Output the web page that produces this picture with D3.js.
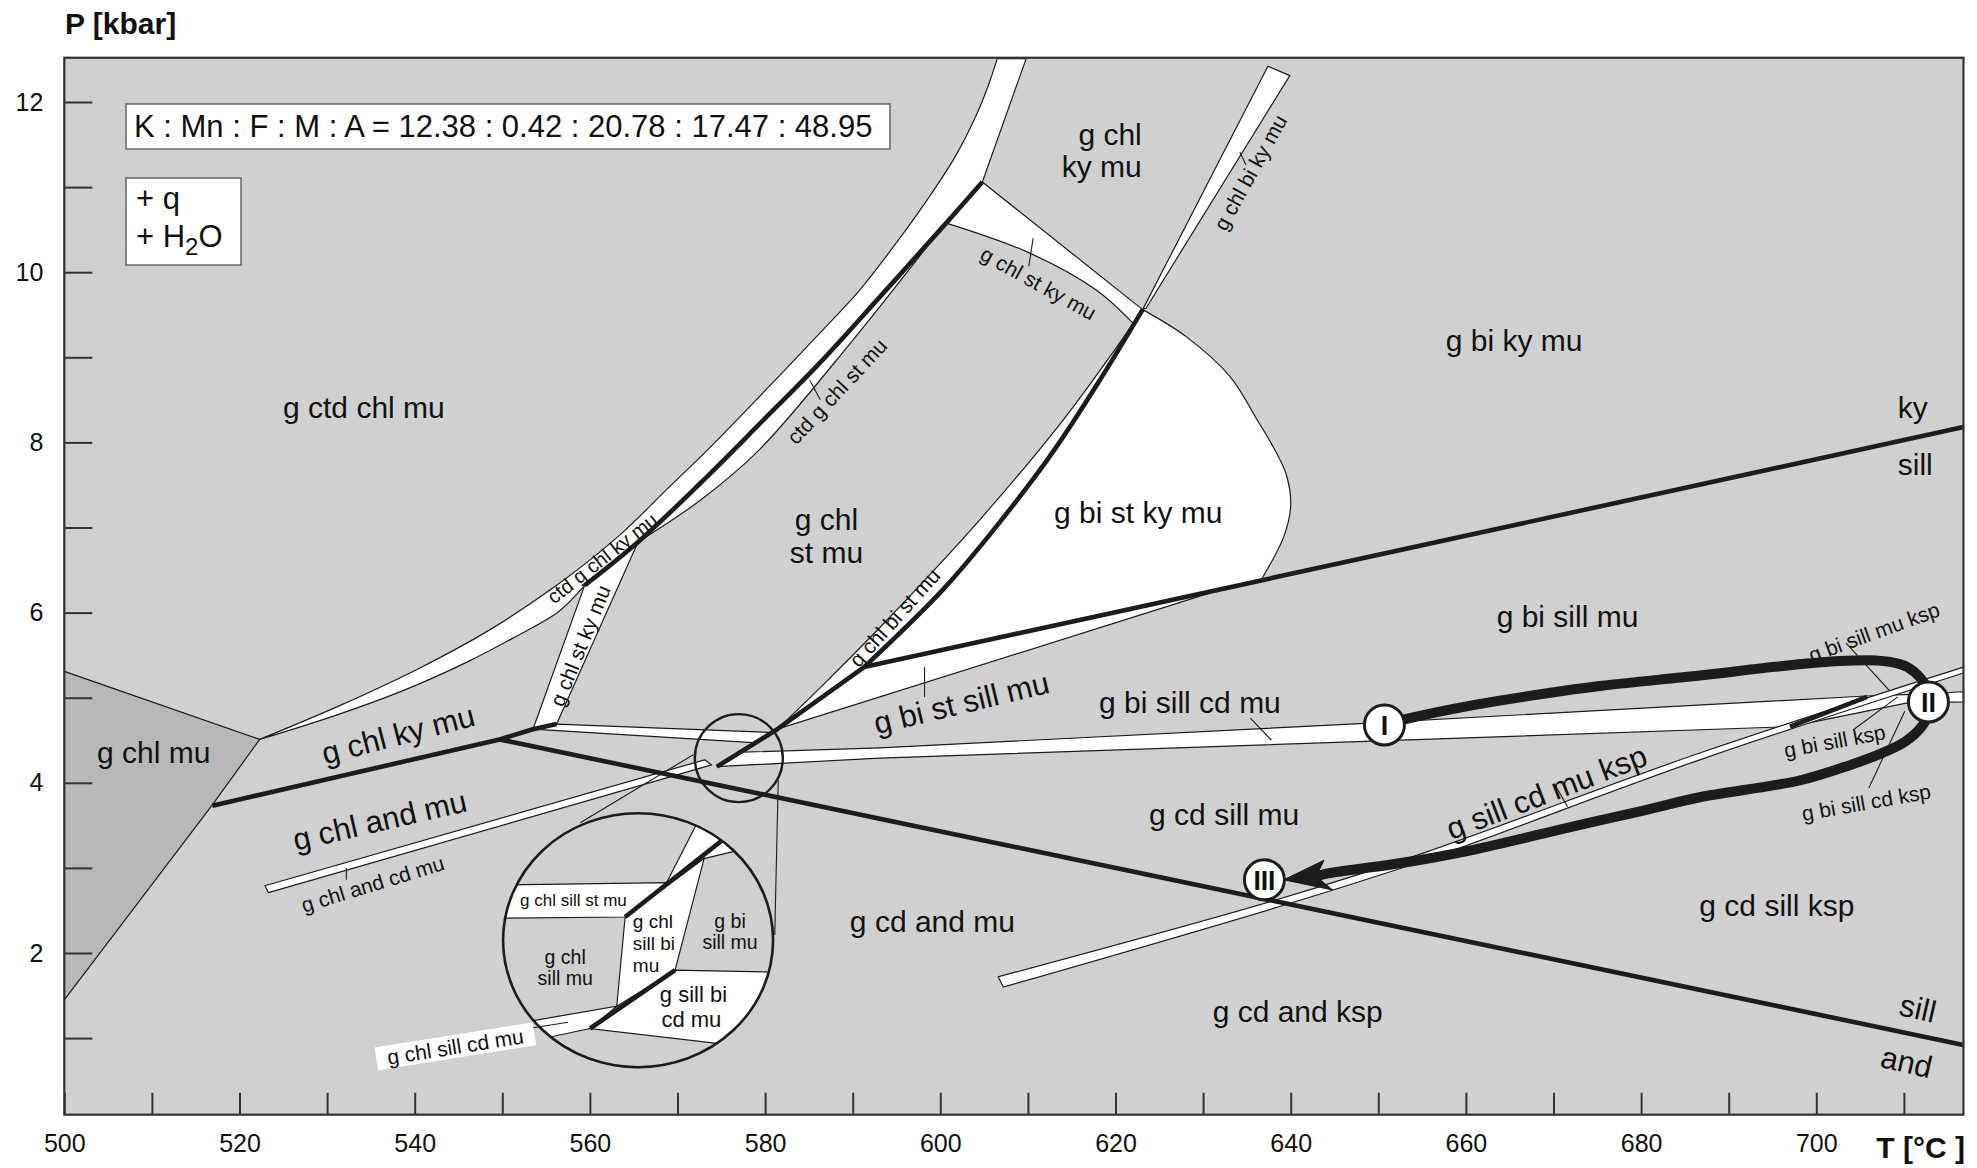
<!DOCTYPE html>
<html>
<head>
<meta charset="utf-8">
<script src="https://cdn.jsdelivr.net/npm/d3@7"></script>
<style>
  body { margin: 0; background: #fff; }
  text { font-family: "Liberation Sans", Arial, Helvetica, sans-serif; fill: #111; }
</style>
</head>
<body>
<div id="chart"></div>
<script>
// ---- axis values ----
const tempTicks = d3.range(500, 711, 10);
const tempLabels = [500, 520, 540, 560, 580, 600, 620, 640, 660, 680, 700];
const presTicks = d3.range(1, 13);
const presLabels = [2, 4, 6, 8, 10, 12];

// bulk composition
const oxides = ["K", "Mn", "F", "M", "A"];
const molar = [12.38, 0.42, 20.78, 17.47, 48.95];

// ---- field boundaries, [T °C, P kbar] ----
const chlMuField = [[500, 5.31], [522.3, 4.51], [516.9, 3.74], [500, 1.45]];

const bandLeft = [[522.3, 4.51], [531.5, 4.91], [540.6, 5.35], [548.6, 5.80], [556.6, 6.35], [563.4, 6.91],
  [569.1, 7.48], [573.9, 7.96], [580.3, 8.64], [586.3, 9.29], [590.8, 9.79], [594.8, 10.32],
  [598.5, 10.85], [601.6, 11.34], [604.0, 11.82], [605.5, 12.20], [606.5, 12.51]];
const bandTop = [[606.5, 12.51], [609.8, 12.51], [604.8, 11.06]];
const t1Top = [[604.8, 11.06], [600.6, 10.58]];
const sliverEdge = [[600.6, 10.58], [590.0, 9.20], [579.3, 7.91], [572.6, 7.32], [565.5, 6.83]];
const bandJoin = [[565.5, 6.83], [559.4, 6.32]];
const bandLower = [[559.4, 6.32], [556.4, 6.01], [551.2, 5.70], [546.2, 5.43], [538.6, 5.08], [530.9, 4.79], [522.3, 4.51]];

const thickT1 = [[604.8, 11.06], [600.0, 10.50], [593.1, 9.71], [586.3, 8.94], [579.4, 8.22], [572.6, 7.52],
  [565.5, 6.83], [559.4, 6.32]];

const stKyBand = [[553.5, 4.63], [559.4, 6.32], [565.5, 6.83], [556.2, 4.69]];

const triUpper = [[604.8, 11.06], [623.1, 9.56], [622.1, 9.39]];
const triCurve = [[622.1, 9.39], [617.8, 9.79], [610.1, 10.23], [600.6, 10.58]];

const biKyBand = [[623.1, 9.56], [637.4, 12.42], [639.9, 12.31], [623.5, 9.58]];

const thickT2 = [[623.1, 9.56], [618.2, 8.73], [613.0, 7.91], [607.0, 7.09], [600.3, 6.27], [591.3, 5.36]];
const lobeCurve = [[636.6, 6.38], [639.2, 6.89], [640.0, 7.26], [639.5, 7.62], [638.2, 7.91], [636.2, 8.26],
  [633.1, 8.77], [628.1, 9.24], [623.1, 9.56]];

const sliverU = [[581.4, 4.63], [587.2, 5.21], [593.9, 5.91], [604.5, 7.09], [614.0, 8.26], [620.0, 9.10], [623.1, 9.56]];
const thickT3 = [[591.3, 5.36], [581.4, 4.63], [574.5, 4.19]];
const stSillWedge = [[581.4, 4.63], [591.3, 5.36], [632.9, 6.30]];

const sillStBand = [[553.5, 4.63], [556.2, 4.69], [581.0, 4.59], [579.1, 4.47]];

const cdBandUpper = [[577.4, 4.36], [593.1, 4.41], [646.8, 4.69], [705.7, 5.02], [711.0, 5.04], [716.8, 5.07]];
const cdBandLower = [[716.8, 4.95], [710.4, 4.94], [697.0, 4.66], [646.8, 4.48], [593.1, 4.29], [574.5, 4.19]];
const kspSegment = [[697.0, 4.66], [705.8, 5.01]];

const kspBandUpper = [[606.6, 1.72], [638.2, 2.62], [655.3, 3.18], [686.7, 4.35], [716.8, 5.36]];
const kspBandLower = [[716.8, 5.29], [686.7, 4.27], [655.3, 3.09], [638.2, 2.53], [607.2, 1.60]];

const andCdBand = [[522.9, 2.79], [573.1, 4.27], [573.9, 4.21], [523.3, 2.71]];

const kyAnd = [[516.9, 3.73], [549.7, 4.51], [553.5, 4.63], [556.2, 4.69]];
const andSill = [[549.7, 4.51], [716.8, 0.92]];
const kySill = [[591.3, 5.36], [716.8, 8.18]];

const pointers = [
  [[585.1, 8.73], [586.3, 8.50]], [[610.6, 10.40], [610.1, 10.07]], [[598.2, 5.36], [598.2, 5.01]],
  [[635.4, 4.76], [637.8, 4.50]], [[670.1, 3.99], [671.6, 3.72]], [[703.4, 5.64], [708.3, 5.09]],
  [[704.2, 4.62], [709.3, 5.01]], [[706.0, 3.94], [710.1, 4.84]], [[532.2, 3.00], [532.2, 2.86]],
  [[634.2, 11.41], [634.9, 11.26]]
];

// magnifier
const zoomSpot = [577.0, 4.29];
const leaderLines = [[[571.8, 4.33], [558.9, 3.53]], [[581.5, 4.03], [581.1, 2.21]]];
const insetCenter = [565.5, 2.15];
// inset fields, local units (-1..1 across the circle, y down)
const insetFields = [
  [[-1.2, -0.433], [0.212, -0.454], [-0.096, -0.183], [-1.2, -0.171]],
  [[0.212, -0.454], [0.570, -1.2], [1.2, -1.2], [1.2, -0.824], [0.489, -0.643]],
  [[-0.096, -0.183], [0.489, -0.643], [0.274, 0.236], [-0.158, 0.520]],
  [[0.274, 0.236], [1.2, 0.255], [1.2, 0.889], [-0.356, 0.695]],
  [[-1.2, 0.71], [-0.158, 0.52], [-0.356, 0.695], [-1.2, 0.886]]
];
const insetThick = [[[-0.096, -0.183], [0.96, -1.07]], [[-0.356, 0.695], [0.274, 0.236]]];
const insetLabels = [
  ["g chl sill st mu", -0.874, -0.268, "start", 17],
  ["g chl", -0.039, -0.094, "start", 19], ["sill bi", -0.039, 0.079, "start", 19], ["mu", -0.039, 0.250, "start", 19],
  ["g bi", 0.681, -0.094, "middle", 19.5], ["sill mu", 0.681, 0.071, "middle", 19.5],
  ["g chl", -0.54, 0.184, "middle", 19.5], ["sill mu", -0.54, 0.354, "middle", 19.5],
  ["g sill bi", 0.41, 0.486, "middle", 22], ["cd mu", 0.395, 0.683, "middle", 22]
];
const insetTag = ["g chl sill cd mu", -1.353, 0.839, -9];
const insetTagLeader = [[-0.8, 0.693], [-0.519, 0.646]];

// P-T path
const ptPath = [[650.7, 4.68], [653.6, 4.76], [660.7, 4.91], [668.5, 5.04], [675.5, 5.14], [686.7, 5.26],
  [695.9, 5.37], [702.7, 5.43], [706.1, 5.44], [708.4, 5.42], [710.4, 5.36], [711.9, 5.23], [712.8, 5.07],
  [712.8, 4.95], [712.8, 4.83], [712.1, 4.67], [710.1, 4.48], [707.3, 4.34], [703.9, 4.21], [698.2, 4.03],
  [686.7, 3.83], [680.5, 3.68], [670.7, 3.45], [660.7, 3.21], [652.8, 3.06], [644.0, 2.93], [642.9, 2.90]];
const arrowHead = [[639.2, 2.86], [643.8, 3.09], [642.9, 2.90], [644.8, 2.74]];
const stations = [["I", 650.7, 4.68], ["II", 712.8, 4.95], ["III", 637.0, 2.86]];

// labels
const fieldLabels = [
  ["g ctd chl mu", 534.2, 8.29, "middle"],
  ["g chl", 623.0, 11.49, "end"], ["ky mu", 623.0, 11.12, "end"],
  ["g bi ky mu", 665.5, 9.07, "middle"],
  ["ky", 711.0, 8.29, "middle"], ["sill", 711.3, 7.62, "middle"],
  ["g chl", 587.0, 6.97, "middle"], ["st mu", 587.0, 6.58, "middle"],
  ["g bi st ky mu", 622.6, 7.05, "middle"],
  ["g bi sill mu", 671.6, 5.83, "middle"],
  ["g bi sill cd mu", 628.5, 4.82, "middle"],
  ["g chl mu", 510.2, 4.23, "middle"],
  ["g cd sill mu", 632.4, 3.50, "middle"],
  ["g cd and mu", 599.1, 2.25, "middle"],
  ["g cd sill ksp", 695.5, 2.43, "middle"],
  ["g cd and ksp", 640.8, 1.19, "middle"]
];
const slantLabels = [
  ["g chl ky mu", 538.1, 4.57, -14.5, 31],
  ["g chl and mu", 536.0, 3.56, -13, 31],
  ["g bi st sill mu", 602.4, 4.94, -13.5, 31],
  ["g sill cd mu ksp", 669.2, 3.89, -21, 31],
  ["sill", 711.6, 1.35, 13, 31],
  ["and", 710.3, 0.72, 13, 31],
  ["ctd g chl ky mu", 561.4, 6.64, -38, 20],
  ["g chl st ky mu", 558.9, 5.61, -68, 21],
  ["ctd g chl st mu", 588.2, 8.60, -47, 21],
  ["g chl bi st mu", 594.8, 5.94, -48, 21],
  ["g chl st ky mu", 611.2, 9.87, 29, 21],
  ["g chl bi ky mu", 635.4, 11.17, -61, 21],
  ["g chl and cd mu", 535.2, 2.81, -17, 21],
  ["g bi sill mu ksp", 706.6, 5.77, -20, 21],
  ["g bi sill ksp", 702.1, 4.49, -10.5, 21],
  ["g bi sill cd ksp", 705.7, 3.77, -10, 21]
];

// ---- drawing ----
const W = 1977, H = 1168;
const GRAY = "#d0d0d0", DARK = "#b8b8b8", INK = "#1c1c1c";

const svg = d3.select("#chart").append("svg")
  .attr("width", W).attr("height", H).style("display", "block");

const x = d3.scaleLinear().domain([500, 700]).range([64.3, 1816.3]);
const y = d3.scaleLinear().domain([2, 12]).range([953, 102]);
const tEnd = 716.8, pLow = 0.1, pHigh = 12.52;
const plotL = x(500), plotR = x(tEnd), plotT = y(pHigh), plotB = y(pLow);

svg.append("defs").append("clipPath").attr("id", "plotClip")
  .append("rect").attr("x", plotL).attr("y", plotT).attr("width", plotR - plotL).attr("height", plotB - plotT);

const lin = d3.line().x(d => x(d[0])).y(d => y(d[1]));
const smooth = d3.line().x(d => x(d[0])).y(d => y(d[1])).curve(d3.curveCatmullRom.alpha(0.5));
function outline(pieces) {
  return pieces.map(([pts, gen], i) => {
    const s = gen(pts);
    return i ? s.replace(/^M/, "L") : s;
  }).join("") + "Z";
}

const plot = svg.append("g").attr("clip-path", "url(#plotClip)");

plot.append("rect")
  .attr("x", plotL).attr("y", plotT).attr("width", plotR - plotL).attr("height", plotB - plotT)
  .attr("fill", GRAY);

plot.append("path").attr("d", lin(chlMuField) + "Z")
  .attr("fill", DARK).attr("stroke", INK).attr("stroke-width", 1.2);

const whiteShapes = [
  outline([[bandLeft, smooth], [bandTop, lin], [t1Top, lin], [sliverEdge, smooth], [bandJoin, lin], [bandLower, smooth]]),
  lin(stKyBand) + "Z",
  outline([[triUpper, lin], [triCurve, smooth], [t1Top.slice().reverse(), lin]]),
  lin(biKyBand) + "Z",
  outline([[thickT2, smooth], [[thickT2[thickT2.length - 1], lobeCurve[0]], lin], [lobeCurve, smooth]]),
  outline([[sliverU, smooth], [thickT2, smooth], [thickT3.slice(0, 2), lin]]),
  lin(stSillWedge) + "Z",
  lin(sillStBand) + "Z",
  lin(cdBandUpper.concat(cdBandLower)) + "Z",
  outline([[kspBandUpper, smooth], [kspBandLower, smooth]]),
  lin(andCdBand) + "Z"
];
plot.selectAll("path.field").data(whiteShapes).join("path")
  .attr("class", "field").attr("d", d => d)
  .attr("fill", "#fff").attr("stroke", INK).attr("stroke-width", 1.2).attr("stroke-linejoin", "round");

// pointer ticks
plot.selectAll("path.ptr").data(pointers).join("path")
  .attr("class", "ptr").attr("d", lin)
  .attr("fill", "none").attr("stroke", INK).attr("stroke-width", 1.1);

// heavy reaction lines
const heavy = [
  [thickT1, smooth], [thickT2, smooth], [thickT3, lin], [kyAnd, lin], [andSill, lin], [kySill, lin], [kspSegment, lin]
];
plot.selectAll("path.heavy").data(heavy).join("path")
  .attr("class", "heavy").attr("d", d => d[1](d[0]))
  .attr("fill", "none").attr("stroke", INK).attr("stroke-width", 4.6).attr("stroke-linejoin", "round");

// magnifier: leader lines, small circle, inset
plot.selectAll("path.leader").data(leaderLines).join("path")
  .attr("class", "leader").attr("d", lin)
  .attr("fill", "none").attr("stroke", INK).attr("stroke-width", 1.1);

plot.append("circle")
  .attr("cx", x(zoomSpot[0])).attr("cy", y(zoomSpot[1])).attr("r", 44)
  .attr("fill", "none").attr("stroke", INK).attr("stroke-width", 2.4);

const rx = 135, ry = 127;
const cx0 = x(insetCenter[0]), cy0 = y(insetCenter[1]);
const iu = d3.scaleLinear().domain([-1, 1]).range([cx0 - rx, cx0 + rx]);
const iv = d3.scaleLinear().domain([-1, 1]).range([cy0 - ry, cy0 + ry]);
const ilin = d3.line().x(d => iu(d[0])).y(d => iv(d[1]));

svg.select("defs").append("clipPath").attr("id", "insetClip")
  .append("ellipse").attr("cx", cx0).attr("cy", cy0).attr("rx", rx).attr("ry", ry);

plot.append("ellipse").attr("cx", cx0).attr("cy", cy0).attr("rx", rx).attr("ry", ry).attr("fill", GRAY);

const inset = plot.append("g").attr("clip-path", "url(#insetClip)");
inset.selectAll("path.ifield").data(insetFields).join("path")
  .attr("class", "ifield").attr("d", d => ilin(d) + "Z")
  .attr("fill", "#fff").attr("stroke", INK).attr("stroke-width", 1.2);
inset.selectAll("path.ithick").data(insetThick).join("path")
  .attr("class", "ithick").attr("d", ilin)
  .attr("fill", "none").attr("stroke", INK).attr("stroke-width", 4.6);

plot.append("ellipse").attr("cx", cx0).attr("cy", cy0).attr("rx", rx).attr("ry", ry)
  .attr("fill", "none").attr("stroke", INK).attr("stroke-width", 2.6);

plot.selectAll("text.ilab").data(insetLabels).join("text")
  .attr("class", "ilab")
  .attr("x", d => iu(d[1])).attr("y", d => iv(d[2]))
  .attr("text-anchor", d => d[3]).attr("font-size", d => d[4])
  .text(d => d[0]);

plot.append("path").attr("d", ilin(insetTagLeader)).attr("stroke", INK).attr("stroke-width", 1.1);
const tag = plot.append("g")
  .attr("transform", `translate(${iu(insetTag[1])},${iv(insetTag[2])}) rotate(${insetTag[3]})`);
tag.append("rect").attr("x", -80).attr("y", -12).attr("width", 160).attr("height", 23).attr("fill", "#fff");
tag.append("text").attr("text-anchor", "middle").attr("dy", "0.35em").attr("font-size", 21).text(insetTag[0]);

// field labels
plot.selectAll("text.flab").data(fieldLabels).join("text")
  .attr("class", "flab")
  .attr("x", d => x(d[1])).attr("y", d => y(d[2]))
  .attr("text-anchor", d => d[3]).attr("font-size", 30)
  .text(d => d[0]);

plot.selectAll("text.slab").data(slantLabels).join("text")
  .attr("class", "slab")
  .attr("transform", d => `translate(${x(d[1])},${y(d[2])}) rotate(${d[3]})`)
  .attr("text-anchor", "middle").attr("dy", "0.35em").attr("font-size", d => d[4])
  .text(d => d[0]);

// P-T path
plot.append("path").attr("d", smooth(ptPath))
  .attr("fill", "none").attr("stroke", INK).attr("stroke-width", 10).attr("stroke-linejoin", "round");
plot.append("path").attr("d", lin(arrowHead) + "Z").attr("fill", INK).attr("stroke", INK).attr("stroke-width", 1);

const st = plot.selectAll("g.station").data(stations).join("g")
  .attr("class", "station")
  .attr("transform", d => `translate(${x(d[1])},${y(d[2])})`);
st.append("circle").attr("r", 20).attr("fill", "#fff").attr("stroke", INK).attr("stroke-width", 3);
st.append("text").attr("text-anchor", "middle").attr("dy", "0.36em")
  .attr("font-size", 27).attr("font-weight", "bold")
  .attr("textLength", d => d[0].length === 3 ? 22 : null)
  .attr("lengthAdjust", "spacingAndGlyphs")
  .text(d => d[0]);

// composition boxes
const box1 = svg.append("g");
box1.append("rect").attr("x", 126).attr("y", 104).attr("width", 764).attr("height", 45)
  .attr("fill", "#fff").attr("stroke", "#666").attr("stroke-width", 1.5);
box1.append("text").attr("x", 134).attr("y", 137).attr("font-size", 31)
  .text(oxides.join(" : ") + " = " + molar.map(v => v.toFixed(2)).join(" : "));

const box2 = svg.append("g");
box2.append("rect").attr("x", 126).attr("y", 178).attr("width", 115).attr("height", 87)
  .attr("fill", "#fff").attr("stroke", "#666").attr("stroke-width", 1.5);
box2.append("text").attr("x", 136).attr("y", 209).attr("font-size", 31).text("+ q");
const h2o = box2.append("text").attr("x", 136).attr("y", 247).attr("font-size", 31);
h2o.append("tspan").text("+ H");
h2o.append("tspan").attr("font-size", 24).attr("dy", 8).text("2");
h2o.append("tspan").attr("dy", -8).text("O");

// axes
const xAxis = d3.axisBottom(x).tickValues(tempTicks).tickSizeInner(-22).tickSizeOuter(0).tickPadding(20)
  .tickFormat(d => tempLabels.includes(d) ? d : "");
const yAxis = d3.axisLeft(y).tickValues(presTicks).tickSizeInner(-28).tickSizeOuter(0).tickPadding(21)
  .tickFormat(d => presLabels.includes(d) ? d : "");

function styleAxis(g) {
  g.select(".domain").remove();
  g.attr("font-size", 25).attr("font-family", '"Liberation Sans", Arial, sans-serif');
  g.selectAll(".tick line").attr("stroke", "#333").attr("stroke-width", 2);
  g.selectAll(".tick text").attr("fill", "#111");
}
svg.append("g").attr("transform", `translate(0,${plotB})`).call(xAxis).call(styleAxis);
svg.append("g").attr("transform", `translate(${plotL},0)`).call(yAxis).call(styleAxis);

svg.append("rect")
  .attr("x", plotL).attr("y", plotT).attr("width", plotR - plotL).attr("height", plotB - plotT)
  .attr("fill", "none").attr("stroke", "#333").attr("stroke-width", 2.2);

svg.append("text").attr("x", 65).attr("y", 34).attr("font-size", 30).attr("font-weight", "bold").text("P [kbar]");
svg.append("text").attr("x", 1965).attr("y", 1158).attr("text-anchor", "end")
  .attr("font-size", 30).attr("font-weight", "bold").text("T [°C ]");
</script>
</body>
</html>
